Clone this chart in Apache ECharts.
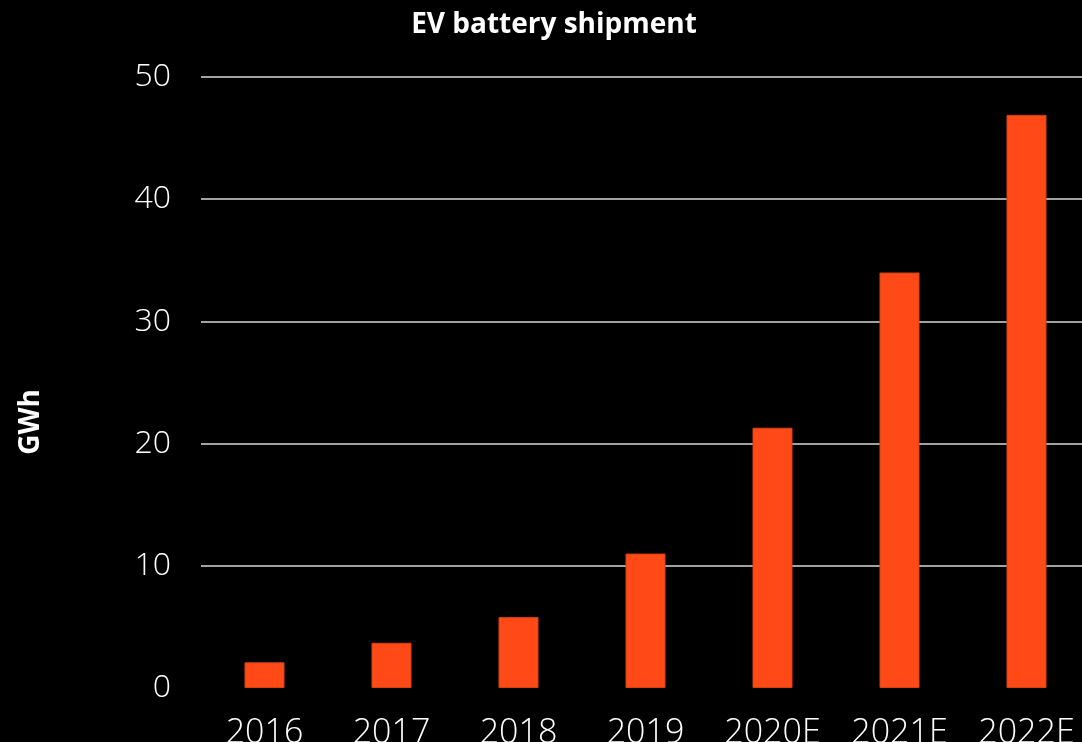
<!DOCTYPE html>
<html>
<head>
<meta charset="utf-8">
<script src="https://cdn.jsdelivr.net/npm/echarts@6/dist/echarts.min.js"></script>
<style>
  html, body { margin: 0; padding: 0; background: #000; }
  #chart { width: 1082px; height: 742px; }
</style>
</head>
<body>
<div id="chart"></div>
<script>
const years = ['2016', '2017', '2018', '2019', '2020E', '2021E', '2022E']
const shipmentGWh = [2.1, 3.7, 5.8, 11.0, 21.3, 34.0, 46.9]
const yTicks = [0, 10, 20, 30, 40, 50]

const FONT = '"Open Sans", "Noto Sans", sans-serif'
const BAR_COLOR = '#ff4a17'

const chart = echarts.init(document.getElementById('chart'))

chart.setOption({
  backgroundColor: '#000',
  title: {
    text: 'EV battery shipment',
    left: 549,
    top: 6,
    textAlign: 'center',
    textStyle: { color: '#fff', fontSize: 28, fontWeight: 'bold', fontFamily: FONT },
  },
  // the last category runs off the right edge in the original, so no auto fitting
  grid: { left: 201, width: 889, top: 77, bottom: 54, outerBoundsMode: 'none' },
  graphic: [
    {
      type: 'text',
      x: 31,
      y: 422,
      rotation: Math.PI / 2,
      style: {
        text: 'GWh',
        fill: '#fff',
        fontSize: 28,
        fontWeight: 'bold',
        fontFamily: FONT,
        align: 'center',
        verticalAlign: 'middle',
      },
    },
  ],
  xAxis: {
    type: 'category',
    data: years,
    axisLine: { show: false },
    axisTick: { show: false },
    axisLabel: {
      color: '#fff',
      fontSize: 34,
      fontFamily: FONT,
      fontWeight: 300,
      margin: 28,
      interval: 0,
    },
  },
  yAxis: {
    type: 'value',
    min: yTicks[0],
    max: yTicks[yTicks.length - 1],
    interval: 10,
    axisLine: { show: false },
    axisTick: { show: false },
    axisLabel: {
      color: '#fff',
      fontSize: 32,
      fontFamily: FONT,
      fontWeight: 300,
      margin: 30,
    },
    splitLine: {
      lineStyle: {
        color: ['rgba(0,0,0,0)', '#d8d8d8', '#d8d8d8', '#d8d8d8', '#d8d8d8', '#d8d8d8'],
        width: 1.5,
      },
    },
  },
  series: [
    {
      name: 'EV battery shipment',
      type: 'bar',
      data: shipmentGWh,
      barWidth: 40,
      itemStyle: { color: BAR_COLOR, borderColor: '#d8400f', borderWidth: 1 },
      silent: true,
    },
  ],
})
</script>
</body>
</html>
